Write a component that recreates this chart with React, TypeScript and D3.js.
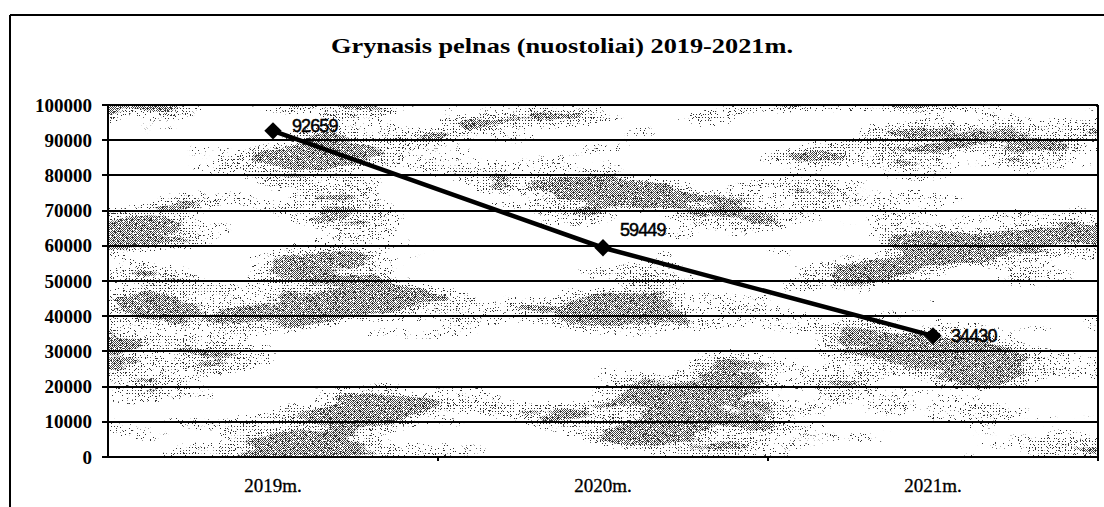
import React from "react";
import * as d3 from "d3";

const categories = ["2019m.", "2020m.", "2021m."];
const profit = [92659, 59449, 34430];
const yTicks = [0, 10000, 20000, 30000, 40000, 50000, 60000, 70000, 80000, 90000, 100000];
const title = "Grynasis pelnas (nuostoliai) 2019-2021m.";

// label nudges (presentation only)
const labelNudge = [
  { dx: 19, dy: 1 },
  { dx: 17, dy: -12 },
  { dx: 18, dy: 6 },
];

const W = 1104;
const H = 507;
const plot = { left: 108, right: 1098, top: 105, bottom: 457 };

const alphaFromR = "0 0 0 0 0  0 0 0 0 0  0 0 0 0 0  1 0 0 0 0";

function TexFilter({ id, cloudT, grainT, grainF }: { id: string; cloudT: number; grainT: number; grainF: number }) {
  return (
    <filter id={id} x="0" y="0" width="100%" height="100%" colorInterpolationFilters="sRGB">
      <feTurbulence type="fractalNoise" baseFrequency="0.005 0.018" numOctaves={4} seed={11} result="t1" />
      <feColorMatrix in="t1" type="matrix" values={alphaFromR} result="a1" />
      <feComponentTransfer in="a1" result="m1">
        <feFuncA type="linear" slope={60} intercept={-60 * cloudT} />
      </feComponentTransfer>
      <feTurbulence type="fractalNoise" baseFrequency={String(grainF)} numOctaves={1} seed={5} result="t2" />
      <feColorMatrix in="t2" type="matrix" values={alphaFromR} result="a2" />
      <feComponentTransfer in="a2" result="g2">
        <feFuncA type="linear" slope={60} intercept={-60 * grainT} />
      </feComponentTransfer>
      <feComposite in="m1" in2="g2" operator="in" result="mask" />
      <feComposite in="SourceGraphic" in2="mask" operator="in" />
    </filter>
  );
}

export default function App() {
  const y = d3.scaleLinear().domain([0, 100000]).range([plot.bottom, plot.top]);
  const x = d3.scaleBand<string>().domain(categories).range([plot.left, plot.right]);
  const cx = (c: string) => (x(c) as number) + x.bandwidth() / 2;
  const pts: [number, number][] = categories.map((c, i) => [cx(c), y(profit[i])]);
  const line = d3.line()(pts) as string;
  const diamond = d3.symbol().type(d3.symbolSquare).size(150)() as string;
  const serif = "'Liberation Serif', 'Times New Roman', serif";
  const sans = "'Liberation Sans', Arial, sans-serif";
  const boundaries = [...categories.map((c) => x(c) as number).slice(1), plot.right];
  const pw = plot.right - plot.left;
  const ph = plot.bottom - plot.top;

  return (
    <div style={{ position: "fixed", left: 0, top: 0, width: W, height: H, background: "#fff" }}>
      <svg width={W} height={H} viewBox={`0 0 ${W} ${H}`} style={{ display: "block" }} shapeRendering="crispEdges">
        <defs>
          <pattern id="checker" width={2} height={2} patternUnits="userSpaceOnUse">
            <rect x={0} y={0} width={1} height={1} fill="#444" />
            <rect x={1} y={1} width={1} height={1} fill="#444" />
          </pattern>
          <pattern id="sparse" width={3} height={3} patternUnits="userSpaceOnUse">
            <rect x={0} y={0} width={1} height={1} fill="#333" />
          </pattern>
          <TexFilter id="texA" cloudT={0.6} grainT={0.35} grainF={0.6} />
          <TexFilter id="texB" cloudT={0.53} grainT={0.45} grainF={0.5} />
          <TexFilter id="texC" cloudT={0.47} grainT={0.66} grainF={1.6} />
        </defs>

        {/* outer frame */}
        <line x1={10} x2={W} y1={15} y2={15} stroke="#000" strokeWidth={2} />
        <line x1={10} x2={10} y1={15} y2={H} stroke="#000" strokeWidth={2} />

        {/* title */}
        <text
          x={562}
          y={53}
          textAnchor="middle"
          fontFamily={serif}
          fontWeight="bold"
          fontSize={22}
          fill="#000"
          textLength={462}
          lengthAdjust="spacingAndGlyphs"
          shapeRendering="auto"
        >
          {title}
        </text>

        {/* texture */}
        <rect x={plot.left} y={plot.top} width={pw} height={ph} fill="url(#sparse)" filter="url(#texB)" />
        <rect x={plot.left} y={plot.top} width={pw} height={ph} fill="url(#checker)" filter="url(#texA)" />
        <rect x={plot.left} y={plot.top} width={pw} height={ph} fill="#333" filter="url(#texC)" />

        {/* gridlines and y ticks */}
        {yTicks.map((t) => (
          <g key={t}>
            <line x1={plot.left - 6} x2={plot.right} y1={Math.round(y(t))} y2={Math.round(y(t))} stroke="#000" strokeWidth={2} />
            <text
              x={92}
              y={y(t)}
              dy="0.35em"
              textAnchor="end"
              fontFamily={serif}
              fontWeight="bold"
              fontSize={19}
              fill="#000"
            >
              {t}
            </text>
          </g>
        ))}

        {/* axes */}
        <line x1={plot.left} x2={plot.left} y1={plot.top} y2={plot.bottom} stroke="#000" strokeWidth={2} />
        <line x1={plot.right} x2={plot.right} y1={plot.top} y2={plot.bottom + 4} stroke="#000" strokeWidth={1.5} />
        {boundaries.map((b, i) => (
          <line key={i} x1={b} x2={b} y1={plot.bottom} y2={plot.bottom + 4} stroke="#000" strokeWidth={1.5} />
        ))}

        {/* x labels */}
        {categories.map((c) => (
          <text key={c} x={cx(c)} y={492} textAnchor="middle" fontFamily={serif} fontSize={19} fill="#000" stroke="#000" strokeWidth={0.3}>
            {c}
          </text>
        ))}

        {/* series */}
        <g shapeRendering="auto">
          <path d={line} fill="none" stroke="#000" strokeWidth={4.5} />
          {pts.map(([px, py], i) => (
            <path key={i} d={diamond} transform={`translate(${px},${py}) rotate(45)`} fill="#000" />
          ))}
          {pts.map(([px, py], i) => (
            <text
              key={"l" + i}
              x={px + labelNudge[i].dx}
              y={py + labelNudge[i].dy}
              fontFamily={sans}
              fontSize={18}
              letterSpacing={-0.9}
              fill="#000"
              stroke="#000"
              strokeWidth={0.5}
            >
              {profit[i]}
            </text>
          ))}
        </g>
      </svg>
    </div>
  );
}
